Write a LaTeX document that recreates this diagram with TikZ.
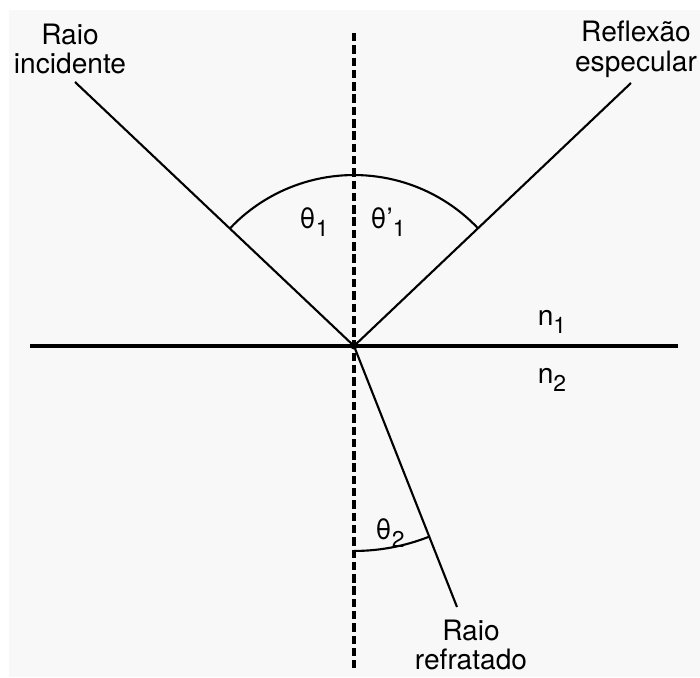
\documentclass[tikz,border=0pt]{standalone}
\usepackage{fontspec}
\setmainfont{TeX Gyre Heros}
\usepackage{tikz}
\usetikzlibrary{arrows.meta, positioning, calc}
\definecolor{PaperGray}{rgb}{0.972, 0.972, 0.972}
\newcommand{\lowsub}[1]{\raisebox{-0.5ex}{\fontsize{13}{13}\selectfont #1}}

\begin{document}
\begin{tikzpicture}[x=0.02cm, y=0.02cm,
        ray/.style={line width=1.2pt},
        lbl/.style={font=\fontsize{16}{17}\selectfont, align=center, inner sep=0pt}]
        \useasboundingbox (0,0) rectangle (700,677);
        \fill [PaperGray] (9,0) rectangle (700,667);
        % Points of the rays
        \coordinate (O) at (354,331);
        \coordinate (inc) at (75,595);
        \coordinate (refl) at (631,594);
        \coordinate (refr) at (457,70);
        \coordinate (ntop) at (354,644);
        \coordinate (nbot) at (354,9);
        \coordinate (sl) at (30,331);
        \coordinate (sr) at (678,331);
        % Interface and normal
        \draw [line width=2.2pt] (sl) -- (sr);
        \draw [line width=2.3pt, dash pattern=on 4.8pt off 2.2pt] (ntop) -- (nbot);
        % Rays
        \draw [ray] (inc) -- (O);
        \draw [ray] (O) -- (refl);
        \draw [ray] (O) -- (refr);
        \fill [black] (O) circle (2pt);
        % Angle arcs
        \draw [ray] (O) ++(136.5:3.42cm) arc[start angle=136.5, end angle=43.5, radius=3.42cm];
        \draw [ray] (O) ++(-90:4.1cm) arc[start angle=-90, end angle=-68.5, radius=4.1cm];
        % Labels
        \node [lbl] (incLbl) at (70,628) {Raio\\incidente};
        \node [lbl] (reflLbl) at (636,628) {Reflexão\\especular};
        \node [lbl] (refrLbl) at (471,32) {Raio\\refratado};
        \node [lbl] (th1) at (314,455) {θ\lowsub{1}};
        \node [lbl] (th1p) at (388,455) {θ'\lowsub{1}};
        \node [lbl] (th2) at (390,144) {θ\lowsub{2}};
        \node [lbl] (n1) at (552,355) {n\lowsub{1}};
        \node [lbl] (n2) at (552,297) {n\lowsub{2}};
    \end{tikzpicture}
\end{document}
